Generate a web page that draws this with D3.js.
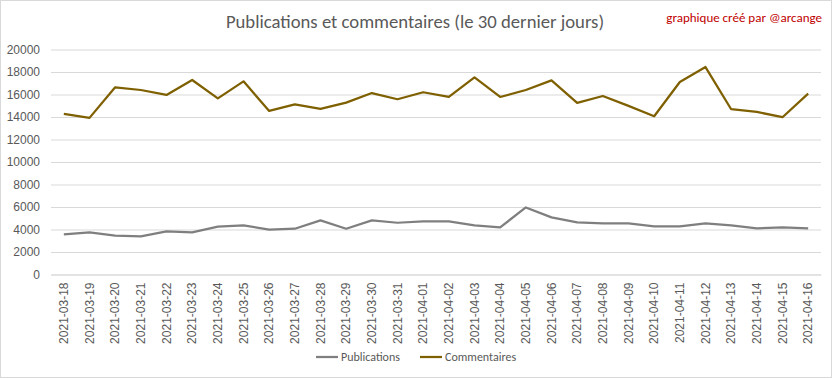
<!DOCTYPE html>
<html><head><meta charset="utf-8">
<script src="https://cdn.jsdelivr.net/npm/d3@7"></script>
<style>
html,body{margin:0;padding:0;background:#fff;}
svg{display:block;font-family:Carlito,"Liberation Sans Narrow","Open Sans",sans-serif;}
</style></head>
<body><svg id="c" width="832" height="378"></svg>
<script>
const dates = ["2021-03-18","2021-03-19","2021-03-20","2021-03-21","2021-03-22","2021-03-23","2021-03-24","2021-03-25","2021-03-26","2021-03-27","2021-03-28","2021-03-29","2021-03-30","2021-03-31","2021-04-01","2021-04-02","2021-04-03","2021-04-04","2021-04-05","2021-04-06","2021-04-07","2021-04-08","2021-04-09","2021-04-10","2021-04-11","2021-04-12","2021-04-13","2021-04-14","2021-04-15","2021-04-16"];
const publications = [3570,3750,3450,3390,3830,3750,4250,4370,3980,4070,4810,4070,4810,4600,4720,4720,4370,4190,5960,5080,4630,4540,4540,4280,4280,4540,4370,4100,4190,4100];
const commentaires = [14280,13920,16640,16400,15960,17290,15660,17170,14540,15130,14720,15280,16130,15580,16200,15780,17520,15780,16400,17260,15250,15870,14990,14070,17110,18440,14690,14450,13980,16080];
const yTicks = [0,2000,4000,6000,8000,10000,12000,14000,16000,18000,20000];
const seriesNames = ["Publications","Commentaires"];
const colors = ["#7f7f7f","#7f6000"];

const svg = d3.select("#c");
svg.append("rect").attr("x",0.5).attr("y",0.5).attr("width",831).attr("height",377)
  .attr("fill","#fff").attr("stroke","#d9d9d9");

const x = d3.scaleBand().domain(dates).range([51,821]).padding(0);
const y = d3.scaleLinear().domain([0,20000]).range([274.5,49.5]);
const cx = d => x(d) + x.bandwidth()/2;

// grid + y axis
const yAxis = d3.axisLeft(y).tickValues(yTicks).tickSize(-(821-51)).tickFormat(d3.format("d"));
const gy = svg.append("g").attr("transform","translate(51,0)").call(yAxis);
gy.select(".domain").remove();
gy.selectAll(".tick line").attr("stroke","#d9d9d9").attr("stroke-width",1);
gy.selectAll(".tick text").attr("x",-11).attr("fill","#595959").attr("font-size","12px");

// x axis
const xAxis = d3.axisBottom(x).tickSize(0);
const gx = svg.append("g").attr("transform","translate(0,274.5)").call(xAxis);
gx.select(".domain").attr("stroke","#d9d9d9");
gx.selectAll(".tick text").attr("fill","#595959").attr("font-size","12px")
  .attr("transform","rotate(-90)").attr("text-anchor","end").attr("dy","0.35em").attr("x",-8).attr("y",0);

const line = d3.line().x((d,i)=>cx(dates[i])).y(d=>y(d));
[publications,commentaires].forEach((s,k)=>{
  svg.append("path").datum(s).attr("d",line).attr("fill","none")
    .attr("stroke",colors[k]).attr("stroke-width",2.25).attr("stroke-linejoin","round");
});

// title
svg.append("text").attr("x",415).attr("y",28).attr("text-anchor","middle")
  .attr("fill","#595959").attr("font-size","18.7px").text("Publications et commentaires (le 30 dernier jours)");
svg.append("text").attr("x",822).attr("y",22).attr("text-anchor","end")
  .attr("fill","#c00000").attr("font-size","13px").text("graphique créé par @arcange");

// legend
const leg = [{x:316},{x:420}];
seriesNames.forEach((n,k)=>{
  const g = svg.append("g").attr("transform",`translate(${leg[k].x},357)`);
  g.append("line").attr("x1",0).attr("x2",22).attr("y1",0).attr("y2",0).attr("stroke",colors[k]).attr("stroke-width",2.25);
  g.append("text").attr("x",25).attr("y",0).attr("dy","0.35em").attr("fill","#595959").attr("font-size","12px").text(n);
});
</script></body></html>
